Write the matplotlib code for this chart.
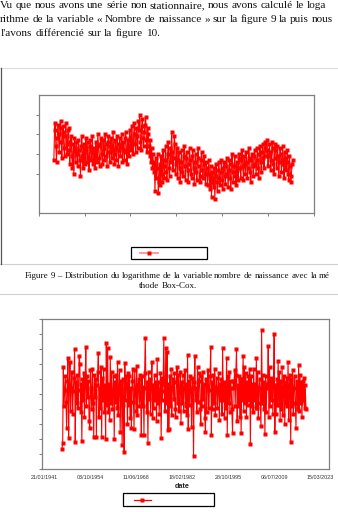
import matplotlib
matplotlib.use("Agg")
import matplotlib.pyplot as plt
from matplotlib.lines import Line2D
from matplotlib.patches import Rectangle
import pandas as pd

# ---------------------------------------------------------------- data
# log of the monthly number of births (Box-Cox, lambda = 0)
log_births = [
    10.97, 11.12, 11.16, 11.04, 10.96, 11.08, 11.15, 11.10, 11.01, 11.13,
    11.17, 11.06, 10.98, 11.11, 11.14, 11.03, 10.99, 11.09, 11.16, 11.05,
    11.00, 11.12, 11.13, 11.02, 10.95, 11.06, 11.09, 10.99, 10.93, 11.05,
    10.90, 11.08, 11.03, 10.96, 11.06, 11.00, 10.94, 11.07, 11.02, 10.97,
    10.89, 11.04, 11.09, 10.99, 10.93, 11.05, 11.01, 10.95, 11.08, 11.03,
    10.96, 11.06, 10.98, 10.92, 11.04, 11.07, 10.97, 11.01, 11.09, 10.95,
    11.03, 10.99, 10.93, 11.06, 11.02, 10.96, 11.10, 11.04, 10.98, 10.94,
    11.05, 11.08, 11.00, 10.95, 11.07, 11.03, 10.97, 11.10, 11.05, 10.99,
    10.94, 11.06, 11.09, 11.01, 10.96, 11.04, 11.08, 10.98, 11.02, 11.11,
    11.00, 10.95, 11.07, 11.03, 10.97, 11.09, 11.05, 10.94, 11.02, 11.08,
    10.99, 11.04, 11.10, 10.96, 11.06, 11.02, 10.97, 11.08, 11.11, 11.01,
    10.95, 11.07, 11.04, 10.99, 11.12, 11.08, 11.02, 11.14, 11.06, 11.00,
    11.10, 11.16, 11.05, 11.01, 11.13, 11.09, 11.03, 11.17, 11.12, 11.20,
    11.06, 11.02, 11.14, 11.18, 11.08, 11.04, 11.11, 11.15, 11.19, 11.07,
    11.01, 11.13, 11.10, 11.04, 10.99, 11.07, 10.96, 11.03, 10.93, 11.00,
    10.91, 10.96, 10.81, 10.98, 10.88, 10.93, 11.00, 10.80, 10.86, 10.95,
    10.84, 10.99, 10.90, 10.86, 11.02, 10.94, 10.88, 10.97, 11.04, 10.91,
    10.87, 11.00, 11.06, 10.93, 10.89, 11.03, 10.96, 11.11, 11.01, 10.92,
    10.98, 11.09, 11.05, 10.90, 10.95, 11.03, 10.88, 10.97, 11.01, 10.93,
    10.86, 10.96, 11.02, 10.91, 10.89, 10.99, 11.04, 10.94, 10.87, 10.98,
    11.01, 10.92, 10.86, 10.95, 11.03, 10.97, 10.90, 10.88, 10.99, 11.02,
    10.93, 10.85, 10.96, 11.00, 10.91, 10.87, 10.98, 11.03, 10.94, 10.89,
    10.86, 10.97, 11.01, 10.92, 10.88, 10.95, 10.99, 10.90, 10.85, 10.96,
    10.93, 10.84, 10.90, 10.97, 10.88, 10.82, 10.94, 10.78, 10.91, 10.86,
    10.83, 10.93, 10.77, 10.89, 10.95, 10.86, 10.81, 10.92, 10.96, 10.88,
    10.84, 10.91, 10.97, 10.87, 10.82, 10.93, 10.96, 10.89, 10.85, 10.94,
    10.98, 10.90, 10.83, 10.92, 10.97, 10.88, 10.82, 10.95, 11.00, 10.91,
    10.86, 10.94, 10.99, 10.89, 10.84, 10.96, 10.92, 10.87, 10.98, 11.00,
    10.93, 10.88, 10.97, 11.02, 10.94, 10.87, 10.99, 10.95, 10.90, 11.01,
    10.96, 10.88, 10.93, 11.03, 10.98, 10.91, 10.86, 10.97, 11.00, 10.94,
    10.89, 10.99, 11.02, 10.95, 10.90, 10.97, 11.03, 10.93, 10.88, 11.00,
    11.04, 10.96, 10.91, 11.01, 11.05, 10.98, 10.93, 11.03, 11.06, 10.99,
    11.07, 11.02, 10.94, 10.99, 11.05, 11.01, 10.92, 10.97, 11.06, 11.03,
    10.95, 10.90, 11.02, 11.05, 10.98, 10.93, 11.04, 10.99, 10.89, 10.96,
    11.03, 11.00, 10.91, 10.97, 11.04, 10.95, 10.88, 11.01, 10.98, 10.92,
    10.96, 11.02, 10.90, 10.87, 10.99, 10.94, 10.86, 10.89, 10.95, 10.97,
]

# first difference of the log series
diff_log = [
    -0.183, -0.163, 0.090, -0.040, 0.013, 0.060, -0.025, -0.113, 0.045, 0.120,
    -0.147, 0.030, 0.107, -0.055, 0.020, 0.075, -0.065, 0.010, 0.055, 0.150,
    -0.160, 0.040, -0.030, 0.065, -0.045, 0.015, 0.127, 0.100, -0.060, 0.035,
    -0.157, 0.050, -0.020, 0.070, -0.075, 0.025, 0.157, -0.040, 0.060, -0.010,
    0.045, -0.090, -0.113, 0.080, 0.020, -0.050, 0.085, -0.030, -0.143, 0.065,
    -0.010, 0.050, -0.143, 0.030, 0.075, 0.137, -0.075, 0.020, -0.045, 0.090,
    -0.143, 0.055, -0.020, 0.085, -0.060, 0.030, -0.150, 0.170, -0.035, 0.153,
    -0.060, 0.035, -0.085, 0.123, -0.030, 0.075, -0.050, 0.010, 0.060, -0.150,
    0.040, -0.025, 0.065, -0.045, 0.107, -0.070, 0.025, 0.080, -0.127, 0.045,
    0.015, -0.170, 0.050, -0.035, -0.193, 0.103, -0.020, 0.060, 0.030, -0.100,
    0.070, -0.035, 0.060, -0.080, 0.020, -0.113, 0.045, 0.085, -0.025, -0.117,
    0.080, 0.015, -0.055, 0.095, -0.070, 0.030, 0.050, -0.040, 0.065, -0.015,
    -0.137, 0.060, -0.040, 0.025, -0.137, 0.070, 0.187, 0.020, -0.060, 0.040,
    -0.163, 0.075, -0.015, 0.050, -0.065, 0.030, 0.107, -0.080, 0.030, -0.045,
    0.065, -0.020, 0.040, -0.090, 0.117, -0.030, 0.040, -0.065, 0.015, 0.070,
    -0.147, 0.055, -0.020, 0.035, 0.187, 0.010, -0.055, 0.153, -0.030, 0.140,
    -0.120, 0.035, -0.117, 0.060, -0.040, 0.085, -0.070, 0.025, 0.050, -0.015,
    0.070, -0.050, -0.077, 0.040, 0.090, -0.030, 0.065, -0.055, 0.020, 0.075,
    -0.097, 0.040, -0.030, 0.065, -0.055, 0.020, 0.080, -0.040, 0.035, -0.070,
    0.130, -0.117, 0.045, -0.035, 0.060, 0.015, -0.110, 0.055, 0.025, -0.207,
    0.040, 0.127, -0.020, 0.020, -0.060, 0.090, -0.025, 0.045, 0.070, -0.050,
    -0.100, 0.060, -0.040, 0.075, -0.015, 0.035, -0.080, -0.127, 0.050, -0.060,
    0.030, 0.080, -0.045, 0.015, 0.060, 0.157, -0.137, 0.040, -0.050, 0.065,
    -0.030, 0.085, -0.070, 0.020, 0.055, -0.045, 0.010, 0.070, -0.085, 0.035,
    -0.020, 0.050, -0.065, 0.153, -0.020, 0.040, -0.080, 0.030, -0.045, 0.120,
    -0.137, 0.060, -0.030, 0.075, -0.060, 0.045, 0.020, -0.050, -0.130, 0.045,
    0.020, 0.080, -0.040, 0.065, 0.150, -0.090, 0.030, -0.040, 0.060, -0.075,
    0.050, -0.130, 0.050, -0.020, 0.127, -0.055, 0.090, -0.030, 0.070, -0.075,
    0.040, -0.035, 0.060, -0.020, 0.085, -0.167, 0.060, -0.040, 0.035, -0.060,
    0.085, -0.020, 0.035, -0.045, 0.120, -0.045, 0.075, -0.080, 0.020, 0.050,
    -0.030, -0.107, 0.213, -0.030, 0.065, -0.050, 0.040, -0.133, 0.060, -0.060,
    0.035, 0.020, 0.160, -0.075, 0.090, -0.040, 0.055, -0.020, 0.045, -0.065,
    0.030, 0.200, -0.127, 0.030, -0.065, 0.050, -0.035, 0.110, -0.035, 0.075,
    -0.085, 0.045, -0.050, 0.090, -0.070, 0.025, 0.060, -0.100, 0.040, -0.030,
    0.055, -0.040, 0.107, -0.087, 0.030, 0.065, -0.160, 0.050, -0.040, 0.080,
    -0.065, 0.020, 0.060, -0.030, -0.113, 0.045, 0.030, -0.050, 0.097, -0.055,
    0.065, -0.030, 0.040, -0.077, 0.045, -0.020, 0.055, -0.045, 0.030, -0.050,
]

dates_log = pd.date_range("1945-08-01", "2016-11-01", periods=len(log_births))
dates_diff = pd.date_range("1946-06-01", "2019-01-01", periods=len(diff_log))

tick_labels = ["21/01/1941", "03/10/1954", "11/06/1968", "18/02/1982",
               "28/10/1995", "06/07/2009", "15/03/2023"]
tick_dates = pd.to_datetime(tick_labels, format="%d/%m/%Y")

log_yticks = [10.9, 11.0, 11.1, 11.2]
diff_yticks = [-0.25, -0.20, -0.15, -0.10, -0.05, 0.0, 0.05, 0.10, 0.15, 0.20, 0.25]

body_lines = [
    "Vu que nous avons une série non stationnaire, nous avons calculé le loga",
    "rithme de la variable « Nombre de naissance » sur la figure 9 la puis nous",
    "l'avons différencié sur la figure 10.",
]
caption_lines = [
    "Figure 9 – Distribution du logarithme de la variable nombre de naissance avec la mé",
    "thode Box-Cox.",
]

# ---------------------------------------------------------------- page
W, H = 338, 512
fig = plt.figure(figsize=(W / 100, H / 100), dpi=100)
fig.patch.set_facecolor("white")


def fx(px):
    return px / W


def fy(py):
    return 1 - py / H


renderer = fig.canvas.get_renderer()
SERIF = "Liberation Serif"


def text_line(s, x0, x1, base, size, justify=True, center=None):
    words = s.split(" ")
    arts = [fig.text(0, fy(base), w, fontsize=size, family=SERIF,
                     va="baseline", ha="left", color="#111111") for w in words]
    widths = [a.get_window_extent(renderer).width for a in arts]
    if justify and len(words) > 1:
        gap = ((x1 - x0) - sum(widths)) / (len(words) - 1)
    else:
        gap = size * 100 / 72 * 0.27
    total = sum(widths) + gap * (len(words) - 1)
    x = x0 if center is None else center - total / 2
    for a, w in zip(arts, widths):
        a.set_x(fx(x))
        x += w + gap


text_line(body_lines[0], 0, 326, 8, 8.1)
text_line(body_lines[1], 0, 333, 21.5, 8.1)
text_line(body_lines[2], 1, 0, 36, 8.1, justify=False)

text_line(caption_lines[0], 25, 330, 278, 6.5)
text_line(caption_lines[1], 0, 0, 287.5, 6.5, justify=False, center=168)


def hline(y, x0, x1, color, lw):
    fig.add_artist(Line2D([fx(x0), fx(x1)], [fy(y), fy(y)], color=color,
                          lw=lw, transform=fig.transFigure))


hline(68, 0, W, "#dcdcdc", 0.8)
hline(263.5, 0, W, "#d0d0d0", 0.8)
hline(294, 0, W, "#d0d0d0", 0.8)
fig.add_artist(Line2D([fx(0.6), fx(0.6)], [fy(68), fy(263.5)], color="#555555",
                      lw=0.9, transform=fig.transFigure))

RED = "#ff0000"
GRAY = "#808080"


def style_axes(ax):
    for sp in ax.spines.values():
        sp.set_color(GRAY)
        sp.set_linewidth(0.9)
    ax.tick_params(direction="out", length=2.2, width=0.7, color=GRAY)


# ---------------------------------------------------------------- log series
ax1 = fig.add_axes([fx(38.7), fy(213), fx(314) - fx(38.7), fy(95) - fy(213)])
ax1.plot(dates_log, log_births, color=RED, lw=0.8, marker="s", ms=2.2,
         mec="none", mfc=RED)
ax1.set_xlim(tick_dates[0], tick_dates[-1])
ax1.set_ylim(10.7, 11.3)
ax1.set_xticks(tick_dates)
ax1.set_xticklabels([])
ax1.set_yticks(log_yticks)
ax1.set_yticklabels([])
style_axes(ax1)

fig.add_artist(Rectangle((fx(131), fy(259)), fx(207) - fx(131), fy(247) - fy(259),
                         fill=False, ec="black", lw=0.9, transform=fig.transFigure))
fig.add_artist(Line2D([fx(140), fx(158)], [fy(252.7)] * 2, color="#ff9a9a", lw=1.4,
                      transform=fig.transFigure))
fig.add_artist(Line2D([fx(149)], [fy(252.7)], marker="s", ms=2.6, color=RED,
                      mec="none", transform=fig.transFigure))

# ---------------------------------------------------------------- differenced series
ax2 = fig.add_axes([fx(41.5), fy(469), fx(329) - fx(41.5), fy(319) - fy(469)])
ax2.plot(dates_diff, diff_log, color=RED, lw=0.8, marker="s", ms=2.2,
         mec="none", mfc=RED)
ax2.set_xlim(tick_dates[0] - pd.Timedelta(days=272),
             tick_dates[-1] + pd.Timedelta(days=977))
ax2.set_ylim(-0.25, 0.25)
ax2.set_yticks(diff_yticks)
ax2.set_yticklabels([])
ax2.set_xticks(tick_dates)
ax2.set_xticklabels(tick_labels, fontsize=3.9, family="Liberation Sans",
                    color="#333333")
style_axes(ax2)
ax2.tick_params(axis="x", length=0, pad=4)
fig.text(fx(182), fy(487), "date", fontsize=5.2, family="Liberation Sans",
         weight="bold", ha="center", va="center", color="#222222")

fig.add_artist(Rectangle((fx(123), fy(506)), fx(214) - fx(123), fy(493) - fy(506),
                         fill=False, ec="black", lw=0.9, transform=fig.transFigure))
fig.add_artist(Line2D([fx(134), fx(151)], [fy(500)] * 2, color=RED, lw=0.9,
                      transform=fig.transFigure))
fig.add_artist(Line2D([fx(142)], [fy(500)], marker="s", ms=2.6, color=RED,
                      mec="none", transform=fig.transFigure))

fig.savefig("out.png", dpi=100, facecolor="white")
